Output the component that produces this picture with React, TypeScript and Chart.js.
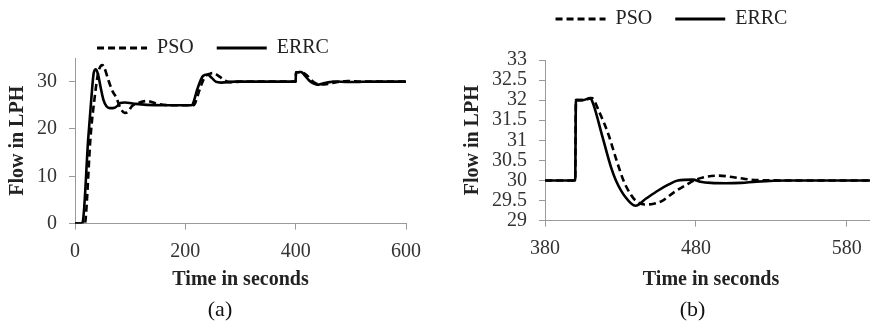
import React, { useEffect, useRef } from 'react';
import { Chart, registerables } from 'chart.js';

Chart.register(...registerables);

// ---- data ----
const ERRC_TIME = [0, 12, 14, 24, 30, 34, 38, 42, 47, 52, 57, 63, 72, 78, 82, 90, 110, 130, 160, 211, 214, 222, 232, 240, 248, 255, 265, 290, 400, 400.5, 405, 410, 412, 418, 424, 427, 433, 440, 447, 455, 462, 468, 478, 483, 490, 500, 510, 520, 540, 600];
const ERRC_FLOW = [0, 0, 0.3, 18, 27, 31.9, 32.6, 31.4, 28.5, 26, 24.8, 24.4, 24.5, 25, 25.5, 25.6, 25.3, 25.1, 25, 25, 25.4, 28.5, 31.2, 31.5, 30.8, 30, 29.8, 30, 30, 32, 32, 32.05, 31.9, 31.1, 30.3, 30, 29.6, 29.37, 29.55, 29.75, 29.9, 30, 30.02, 29.97, 29.94, 29.93, 29.94, 29.97, 30, 30];

const PSO_TIME = [0, 18, 20, 28, 36, 42, 46, 49.5, 53, 60, 68, 75, 82, 90, 96, 103, 115, 130, 150, 175, 215, 218, 225, 235, 245, 250, 258, 265, 272, 282, 300, 400, 400.5, 405, 411, 416, 422, 427, 432, 436, 440, 446, 452, 458, 466, 474, 480, 488, 495, 505, 512, 520, 540, 600];
const PSO_FLOW = [0, 0, 2, 18, 27, 31.9, 33.2, 33.5, 33, 30.5, 28, 26.6, 24.5, 23.4, 23.6, 24.8, 25.5, 25.9, 25.3, 25, 25, 25.5, 28, 30.9, 31.7, 31.8, 31.4, 30.8, 30.2, 29.9, 30, 30, 32, 32, 32.05, 31.7, 31.15, 30.55, 30, 29.7, 29.5, 29.4, 29.42, 29.5, 29.72, 29.9, 30.02, 30.1, 30.12, 30.08, 30.04, 30.01, 30, 30];

const SERIES_NAMES = ['PSO', 'ERRC'];

const X_TICKS_A = [0, 200, 400, 600];
const Y_TICKS_A = [0, 10, 20, 30];
const X_TICKS_B = [380, 480, 580];
const Y_TICKS_B = [29, 29.5, 30, 30.5, 31, 31.5, 32, 32.5, 33];

const X_TITLE = 'Time in seconds';
const Y_TITLE = 'Flow in LPH';

// ---- styles ----
const FONT = "'Liberation Serif', 'Times New Roman', serif";
const AXIS_COLOR = '#9a9a9a';
const TEXT_COLOR = '#333333';
const TITLE_COLOR = '#222222';
const DASH = [7, 4];

type PanelCfg = {
  caption: string;
  xMin: number;
  xMax: number;
  yMin: number;
  yMax: number;
  xTicks: number[];
  yTicks: number[];
  yAxisWidth: number;
  xAxisHeight: number;
  padTop: number;
  padRight: number;
  yTitlePad: number;
  legendDx: number;
  legendDy: number;
  captionDx: number;
};

function makePoints(t: number[], v: number[]) {
  return t.map((x, i) => ({ x, y: v[i] }));
}

function Panel({ cfg, left, width }: { cfg: PanelCfg; left: number; width: number }) {
  const ref = useRef<HTMLCanvasElement | null>(null);
  useEffect(() => {
    if (!ref.current) return;
    const shift = {
      id: 'boxShift',
      afterLayout(chart: any) {
        const l = chart.legend;
        if (l) {
          l.top += cfg.legendDy;
          l.bottom += cfg.legendDy;
          l.left += cfg.legendDx;
          l.right += cfg.legendDx;
        }
        const t = chart.titleBlock;
        if (t) {
          t.left += cfg.captionDx;
          t.right += cfg.captionDx;
        }
      },
    };
    const chart = new Chart(ref.current, {
      type: 'line',
      data: {
        datasets: [
          {
            label: SERIES_NAMES[0],
            data: makePoints(PSO_TIME, PSO_FLOW),
            borderColor: '#000000',
            backgroundColor: '#000000',
            borderWidth: 2.6,
            borderDash: DASH,
            pointRadius: 0,
            cubicInterpolationMode: 'monotone',
            fill: false,
          },
          {
            label: SERIES_NAMES[1],
            data: makePoints(ERRC_TIME, ERRC_FLOW),
            borderColor: '#000000',
            backgroundColor: '#000000',
            borderWidth: 2.6,
            pointRadius: 0,
            cubicInterpolationMode: 'monotone',
            fill: false,
          },
        ],
      },
      options: {
        animation: false,
        responsive: false,
        maintainAspectRatio: false,
        events: [],
        layout: { padding: { top: cfg.padTop, right: cfg.padRight, left: 0, bottom: 0 } },
        plugins: {
          tooltip: { enabled: false },
          legend: {
            display: true,
            position: 'top',
            labels: {
              usePointStyle: true,
              pointStyle: 'line',
              pointStyleWidth: 50,
              boxHeight: 20,
              padding: 23,
              color: TITLE_COLOR,
              font: { family: FONT, size: 20 },
              generateLabels: (c: any) => {
                const items = (Chart.defaults as any).plugins.legend.labels.generateLabels(c);
                return items.map((it: any, i: number) => ({
                  ...it,
                  lineDash: c.data.datasets[i].borderDash || [],
                  lineWidth: 3,
                  strokeStyle: '#000000',
                  fillStyle: '#000000',
                }));
              },
            },
          },
          title: {
            display: true,
            position: 'bottom',
            text: cfg.caption,
            color: '#111111',
            font: { family: FONT, size: 22, weight: 'normal' },
            padding: { top: 0, bottom: 2 },
          },
        },
        scales: {
          x: {
            type: 'linear',
            min: cfg.xMin,
            max: cfg.xMax,
            afterBuildTicks: (s: any) => {
              s.ticks = cfg.xTicks.map((value) => ({ value }));
            },
            afterFit: (s: any) => {
              s.height = cfg.xAxisHeight;
            },
            ticks: {
              autoSkip: false,
              maxRotation: 0,
              padding: 10,
              color: TEXT_COLOR,
              font: { family: FONT, size: 20 },
              callback: (v: any) => String(v),
            },
            grid: { display: true, drawOnChartArea: false, drawTicks: true, tickLength: 6, color: AXIS_COLOR },
            border: { display: true, color: AXIS_COLOR, width: 1 },
            title: {
              display: true,
              text: X_TITLE,
              color: TITLE_COLOR,
              font: { family: FONT, size: 20, weight: 'bold' },
              padding: { top: 0, bottom: 5 },
            },
          },
          y: {
            type: 'linear',
            min: cfg.yMin,
            max: cfg.yMax,
            afterBuildTicks: (s: any) => {
              s.ticks = cfg.yTicks.map((value) => ({ value }));
            },
            afterFit: (s: any) => {
              s.width = cfg.yAxisWidth;
            },
            ticks: {
              autoSkip: false,
              padding: 12,
              color: TEXT_COLOR,
              font: { family: FONT, size: 20 },
              callback: (v: any) => String(v),
            },
            grid: { display: true, drawOnChartArea: false, drawTicks: true, tickLength: 6, color: AXIS_COLOR },
            border: { display: true, color: AXIS_COLOR, width: 1 },
            title: {
              display: true,
              text: Y_TITLE,
              color: TITLE_COLOR,
              font: { family: FONT, size: 20, weight: 'bold' },
              padding: { top: cfg.yTitlePad, bottom: 0 },
            },
          },
        },
      },
      plugins: [shift],
    } as any);
    return () => chart.destroy();
  }, []);
  return (
    <div style={{ position: 'absolute', left, top: 0, width, height: 325 }}>
      <canvas ref={ref} width={width} height={325} style={{ width, height: 325, display: 'block' }} />
    </div>
  );
}

const PANEL_A: PanelCfg = {
  caption: '(a)',
  xMin: 0,
  xMax: 600,
  yMin: 0,
  yMax: 35,
  xTicks: X_TICKS_A,
  yTicks: Y_TICKS_A,
  yAxisWidth: 75,
  xAxisHeight: 73,
  padTop: 5,
  padRight: 34,
  yTitlePad: 6,
  legendDx: 10,
  legendDy: 10,
  captionDx: 17,
};

const PANEL_B: PanelCfg = {
  caption: '(b)',
  xMin: 380,
  xMax: 600,
  yMin: 29,
  yMax: 33,
  xTicks: X_TICKS_B,
  yTicks: Y_TICKS_B,
  yAxisWidth: 105,
  xAxisHeight: 76,
  padTop: 7,
  padRight: 67,
  yTitlePad: 21,
  legendDx: 13,
  legendDy: -21,
  captionDx: 34,
};

export default function App() {
  return (
    <div
      style={{
        position: 'fixed',
        left: 0,
        top: 0,
        width: 870,
        height: 325,
        overflow: 'hidden',
        background: '#ffffff',
      }}
    >
      <Panel cfg={PANEL_A} left={0} width={440} />
      <Panel cfg={PANEL_B} left={440} width={504} />
    </div>
  );
}
